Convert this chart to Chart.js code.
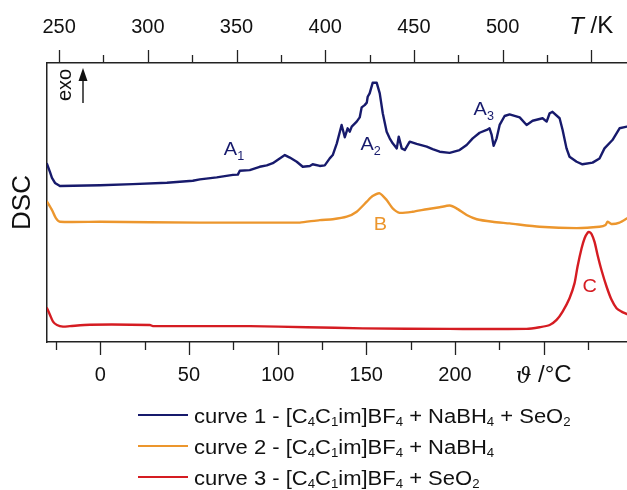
<!DOCTYPE html>
<html>
<head>
<meta charset="utf-8">
<script src="https://cdn.jsdelivr.net/npm/chart.js"></script>
<style>
  html, body { margin: 0; padding: 0; background: #fff; }
  #holder { width: 627px; height: 490px; }
</style>
</head>
<body>
<div id="holder"><canvas id="dscChart"></canvas></div>
<script>
// curve 1 - [C4C1im]BF4 + NaBH4 + SeO2 (temperature in °C, DSC signal in arbitrary units)
const temp1 = [-30, -28.3, -27.2, -25.5, -22.7, 0, 18.4, 37.6, 52.2, 56.2, 65.7, 74.8, 77.6, 78.7, 84.3, 89.9, 93.9, 97.3,
  101.2, 104.1, 106.9, 110.8, 114.2, 118.2, 119.8, 123.8, 126.6, 129.4, 131.1, 133.4, 136.1, 137.9, 139.5, 140.7, 141.8,
  144.6, 146.3, 147.4, 149.1, 150.3, 150.8, 151.9, 153.6, 155.9, 157.6, 159.3, 161.5, 163.2, 164.9, 167.2, 168.3, 170.0,
  171.7, 174.5, 178.4, 184.1, 187.4, 191.4, 197.0, 202.6, 206.6, 210.0, 213.9, 217.9, 219.5, 220.7, 221.8, 223.5, 225.2,
  228.0, 230.8, 236.5, 240.4, 243.8, 249.4, 251.7, 253.4, 255.0, 259.0, 260.7, 262.9, 264.6, 268.6, 271.9, 277.6, 281.5,
  284.3, 288.8, 292.8, 297];
const dsc1 = [63.8, 60.9, 58.8, 57.0, 55.9, 56.2, 56.6, 57.1, 57.8, 58.3, 59.0, 59.9, 60.0, 61.4, 61.6, 62.8, 63.3, 64.1,
  65.8, 67.0, 66.1, 64.6, 62.8, 63.1, 63.7, 63.1, 63.3, 65.8, 67.0, 71.2, 77.8, 73.4, 76.6, 75.4, 77.2,
  79.0, 80.5, 84.1, 84.9, 85.8, 87.9, 89.1, 92.9, 92.9, 89.1, 82.0, 75.4, 73.0, 71.2, 69.4, 73.6, 69.4,
  68.8, 71.8, 71.0, 70.0, 69.1, 68.2, 67.8, 68.8, 70.6, 73.0, 75.0, 76.0, 76.6, 74.2, 70.3, 73.0, 77.8,
  81.0, 81.6, 80.5, 77.8, 79.3, 80.2, 79.0, 82.0, 82.5, 80.2, 76.0, 69.4, 66.4, 64.6, 63.7, 64.3, 65.8,
  69.4, 72.4, 76.6, 77.2];

// curve 2 - [C4C1im]BF4 + NaBH4
const temp2 = [-30, -27.2, -25.0, -22.7, 0, 56.2, 106.9, 112.5, 123.8, 131.1, 139.0, 144.6, 150.3, 153.6, 157.6, 161.5,
  164.9, 168.8, 176.2, 184.1, 191.4, 197.0, 200.9, 206.6, 212.3, 221.2, 230.8, 247.7, 268.6, 281.5, 284.9, 286.0, 288.2,
  292.8, 297];
const dsc2 = [50.3, 47.3, 44.4, 43.1, 43.1, 42.8, 42.8, 42.8, 43.7, 44.0, 44.9, 46.7, 50.3, 52.3, 53.3, 50.9,
  47.9, 46.3, 46.7, 47.6, 48.3, 48.9, 47.9, 45.5, 44.0, 43.1, 42.5, 41.3, 40.8, 41.3, 41.9, 43.1, 42.3,
  42.8, 44.3];

// curve 3 - [C4C1im]BF4 + SeO2
const temp3 = [-30, -28.3, -26.6, -24.4, -21.0, -17.1, -5.8, 28.0, 29.7, 84.3, 116.5, 148.0, 197.0, 240.4, 247.7, 253.4,
  257.3, 260.7, 264.6, 267.4, 269.1, 271.4, 273.1, 274.8, 275.9, 277.0, 278.7, 280.4, 282.6, 285.5, 288.3, 291.1, 293.9, 297];
const dsc3 = [12.1, 9.7, 7.3, 6.1, 5.5, 5.7, 6.2, 6.1, 5.7, 5.7, 5.3, 4.9, 4.7, 4.7, 5.3, 6.1,
  7.9, 10.9, 15.7, 21.0, 27.0, 33.6, 37.2, 39.2, 39.4, 38.7, 35.9, 31.2, 25.8, 19.8, 15.1, 12.1, 10.9, 10.0];

const curveLabels = ['curve 1 - [C₄C₁im]BF₄ + NaBH₄ + SeO₂', 'curve 2 - [C₄C₁im]BF₄ + NaBH₄', 'curve 3 - [C₄C₁im]BF₄ + SeO₂'];

// axis ticks
const celsiusMajor = [0, 50, 100, 150, 200, 250];
const celsiusMinor = [-25, 25, 75, 125, 175, 225, 275];
const kelvinMajor = [250, 300, 350, 400, 450, 500, 550];
const kelvinMinor = [275, 325, 375, 425, 475, 525];
const tMin = -30, tMax = 297;

// peak labels (temperature, signal)
const peakNames = ['A₁', 'A₂', 'A₃', 'B', 'C'];
const peakTemps = [69.7, 146.7, 210.5, 154.2, 271.9];
const peakDsc = [67.0, 68.8, 81.4, 40.1, 18.0];
const peakCurve = [0, 0, 0, 1, 2];

const navy = '#171a6c', orange = '#ec962d', red = '#d51c22';
const colors = [navy, orange, red];
const FONT = '"Liberation Sans", Arial, sans-serif';

const toXY = (ts, vs) => ts.map((t, i) => ({x: t, y: vs[i]}));

const subs = {'₀':'0','₁':'1','₂':'2','₃':'3','₄':'4','₅':'5','₆':'6','₇':'7','₈':'8','₉':'9'};
// text with subscript digits; x = left, y = baseline, sx = horizontal stretch
function drawRich(ctx, str, x, y, size, subDrop, sx) {
    ctx.save();
    ctx.translate(x, y);
    ctx.scale(sx, 1);
    let cx = 0;
    for (const ch of str) {
        const sub = subs[ch] !== undefined;
        const c = sub ? subs[ch] : ch;
        ctx.font = Math.round(sub ? size * 0.64 : size) + 'px ' + FONT;
        ctx.fillText(c, cx, sub ? subDrop : 0);
        cx += ctx.measureText(c).width;
    }
    ctx.restore();
}

const decor = {
    id: 'decor',
    afterDraw(chart) {
        const {ctx, chartArea: area, scales} = chart;
        const x = scales.x, x2 = scales.x2, y = scales.y;
        ctx.save();
        ctx.strokeStyle = '#222';
        ctx.lineWidth = 1.3;
        const tick = (scale, vals, len, top) => {
            vals.forEach(v => {
                const px = Math.round(scale.getPixelForValue(v)) + 0.5;
                if (px > area.right) return;
                ctx.beginPath();
                ctx.moveTo(px, top ? area.top : area.bottom);
                ctx.lineTo(px, top ? area.top - len : area.bottom + len);
                ctx.stroke();
            });
        };
        tick(x, celsiusMajor, 13, false);
        tick(x, celsiusMinor, 8, false);
        tick(x2, kelvinMajor, 13, true);
        tick(x2, kelvinMinor, 8, true);

        // axis symbols in place of the last labels
        ctx.fillStyle = '#111';
        ctx.textBaseline = 'alphabetic';
        ctx.textAlign = 'left';
        const sym = (a, fa, b, cx, base) => {
            ctx.font = fa;
            const wa = ctx.measureText(a).width;
            ctx.font = '24px ' + FONT;
            const wb = ctx.measureText(b).width;
            const left = cx - (wa + wb) / 2;
            ctx.font = fa;
            ctx.fillText(a, left, base + 1);
            ctx.font = '24px ' + FONT;
            ctx.fillText(b, left + wa, base);
        };
        sym('ϑ', 'italic 22px "DejaVu Serif", serif', ' /°C', x.getPixelForValue(250), 382);
        sym('T', 'italic 24px ' + FONT, ' /K', x2.getPixelForValue(550), 33);

        // exo arrow
        ctx.save();
        ctx.translate(area.left + 18, area.top + 22);
        ctx.rotate(-Math.PI / 2);
        ctx.font = '20px ' + FONT;
        ctx.textAlign = 'center';
        ctx.textBaseline = 'middle';
        ctx.fillText('exo', 0, 0);
        ctx.restore();
        const ax = area.left + 36;
        ctx.strokeStyle = '#111';
        ctx.lineWidth = 1.4;
        ctx.beginPath();
        ctx.moveTo(ax, area.top + 40);
        ctx.lineTo(ax, area.top + 14);
        ctx.stroke();
        ctx.beginPath();
        ctx.moveTo(ax, area.top + 5);
        ctx.lineTo(ax - 4.5, area.top + 18);
        ctx.lineTo(ax + 4.5, area.top + 18);
        ctx.closePath();
        ctx.fill();

        // peak labels
        peakNames.forEach((name, i) => {
            ctx.fillStyle = colors[peakCurve[i]];
            drawRich(ctx, name, x.getPixelForValue(peakTemps[i]), y.getPixelForValue(peakDsc[i]), 19, 5, 1.05);
        });

        // legend
        chart.data.datasets.forEach((ds, i) => {
            const ly = 415 + i * 31;
            ctx.strokeStyle = ds.borderColor;
            ctx.lineWidth = 2.2;
            ctx.beginPath();
            ctx.moveTo(138, ly);
            ctx.lineTo(188, ly);
            ctx.stroke();
            ctx.fillStyle = '#111';
            drawRich(ctx, ds.label, 194, ly + 8, 19.5, 3, 1.1);
        });
        ctx.restore();
    }
};

const axisFont = {family: FONT, size: 20};

new Chart(document.getElementById('dscChart'), {
    type: 'line',
    data: {
        datasets: [
            {label: curveLabels[0], data: toXY(temp1, dsc1), borderColor: navy, tension: 0},
            {label: curveLabels[1], data: toXY(temp2, dsc2), borderColor: orange, tension: 0.2},
            {label: curveLabels[2], data: toXY(temp3, dsc3), borderColor: red, tension: 0.25}
        ]
    },
    options: {
        responsive: true,
        maintainAspectRatio: false,
        animation: false,
        devicePixelRatio: 1,
        layout: {padding: {left: 0, right: 0, top: 0, bottom: 88}},
        elements: {
            point: {radius: 0},
            line: {borderWidth: 2.4, borderJoinStyle: 'round', borderCapStyle: 'round'}
        },
        plugins: {legend: {display: false}, tooltip: {enabled: false}},
        scales: {
            x: {
                type: 'linear', position: 'bottom', min: tMin, max: tMax,
                afterBuildTicks: s => { s.ticks = celsiusMajor.map(v => ({value: v})); },
                afterFit: s => { s.height = 60; },
                ticks: {autoSkip: false, maxRotation: 0, padding: 8, color: '#111', font: axisFont,
                    callback: v => (v === 250 ? '' : v)},
                grid: {drawOnChartArea: false, drawTicks: true, tickLength: 13, tickColor: 'rgba(0,0,0,0)'},
                border: {display: true, color: '#222', width: 1.5}
            },
            x2: {
                type: 'linear', position: 'top', min: tMin + 273.15, max: tMax + 273.15,
                afterBuildTicks: s => { s.ticks = kelvinMajor.map(v => ({value: v})); },
                afterFit: s => { s.height = 63; },
                ticks: {autoSkip: false, maxRotation: 0, padding: 11, color: '#111', font: axisFont,
                    callback: v => (v === 550 ? '' : v)},
                grid: {drawOnChartArea: false, drawTicks: true, tickLength: 13, tickColor: 'rgba(0,0,0,0)'},
                border: {display: true, color: '#222', width: 1.5}
            },
            y: {
                min: 0, max: 100,
                afterFit: s => { s.width = 47; },
                ticks: {display: false},
                grid: {display: false, drawTicks: false},
                border: {display: true, color: '#222', width: 1.5},
                title: {display: true, text: 'DSC', color: '#111', font: {family: FONT, size: 26}, padding: {top: 7, bottom: 0}}
            }
        }
    },
    plugins: [decor]
});
</script>
</body>
</html>
